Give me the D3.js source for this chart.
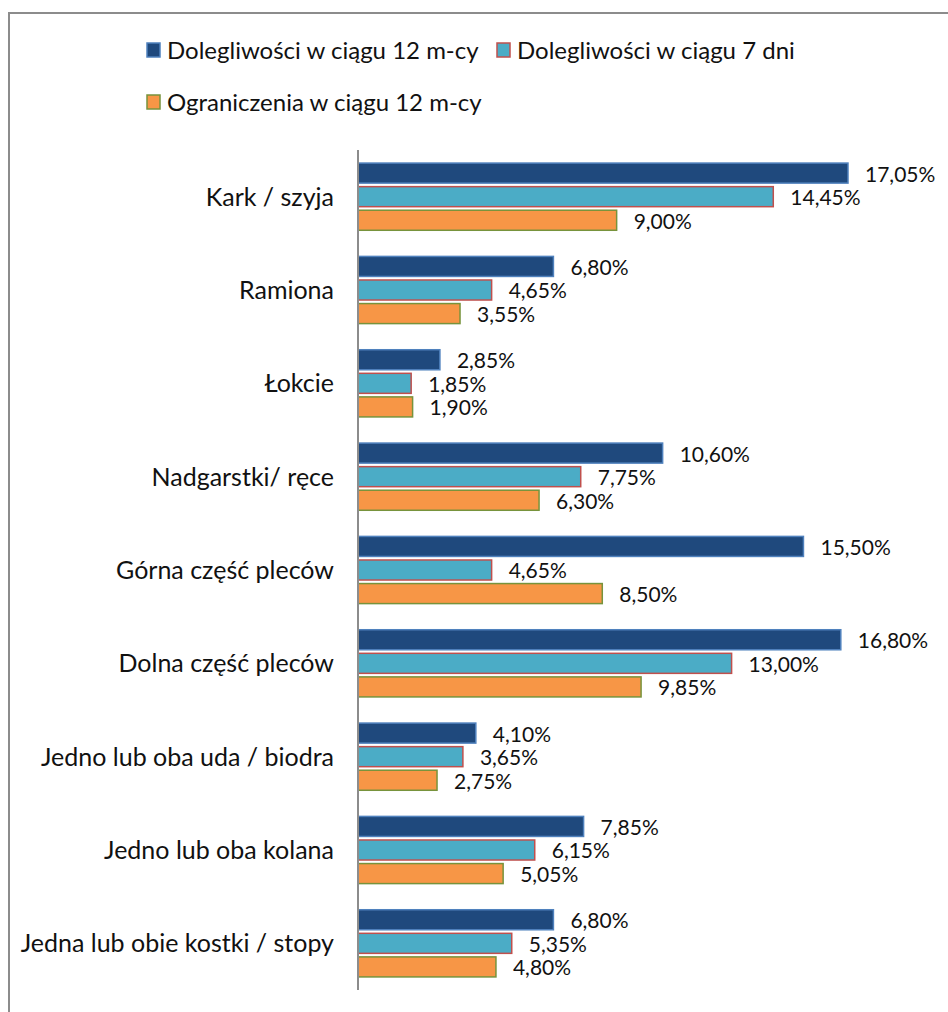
<!DOCTYPE html>
<html>
<head>
<meta charset="utf-8">
<script src="https://cdn.jsdelivr.net/npm/d3@7"></script>
<style>
  html, body { margin: 0; padding: 0; background: #fff; }
  svg { display: block; }
  text { font-family: Lato, "Open Sans", sans-serif; fill: #111; }
</style>
</head>
<body>
<svg id="chart" width="948" height="1012"></svg>
<script>
// Body regions
const categories = [
  "Kark / szyja",
  "Ramiona",
  "Łokcie",
  "Nadgarstki/ ręce",
  "Górna część pleców",
  "Dolna część pleców",
  "Jedno lub oba uda / biodra",
  "Jedno lub oba kolana",
  "Jedna lub obie kostki / stopy"
];

// Series names (legend)
const seriesNames = [
  "Dolegliwości w ciągu 12 m-cy",
  "Dolegliwości w ciągu 7 dni",
  "Ograniczenia w ciągu 12 m-cy"
];

// Values in percent, one array per series
const complaints12m = [17.05, 6.80, 2.85, 10.60, 15.50, 16.80, 4.10, 7.85, 6.80];
const complaints7d  = [14.45, 4.65, 1.85, 7.75, 4.65, 13.00, 3.65, 6.15, 5.35];
const limits12m     = [9.00, 3.55, 1.90, 6.30, 8.50, 9.85, 2.75, 5.05, 4.80];

const seriesValues = [complaints12m, complaints7d, limits12m];
const fills   = ["#1f497d", "#4bacc6", "#f79646"];
const strokes = ["#4f81bd", "#c0504d", "#77933c"];

const svg = d3.select("#chart");

// outer frame
svg.append("rect")
  .attr("x", 9).attr("y", 13)
  .attr("width", 960).attr("height", 1020)
  .attr("fill", "none")
  .attr("stroke", "#8c8c8c")
  .attr("stroke-width", 2);

const plot = { left: 358, top: 150, bottom: 990 };

const x = d3.scaleLinear().domain([0, 17.05]).range([plot.left, 848]);

const y0 = d3.scaleBand()
  .domain(categories)
  .range([plot.top, plot.bottom])
  .paddingInner(0.28)
  .paddingOuter(0.14);

const y1 = d3.scaleBand()
  .domain(d3.range(seriesNames.length))
  .range([0, y0.bandwidth()])
  .paddingInner(0.15);

const fmt = v => d3.format(".2f")(v).replace(".", ",") + "%";

const groups = svg.append("g").selectAll("g")
  .data(categories)
  .join("g")
  .attr("transform", d => `translate(0,${y0(d)})`);

groups.selectAll("rect")
  .data((c, i) => seriesValues.map((vals, s) => ({ s, v: vals[i] })))
  .join("rect")
  .attr("x", plot.left)
  .attr("y", d => y1(d.s))
  .attr("width", d => x(d.v) - plot.left)
  .attr("height", y1.bandwidth())
  .attr("fill", d => fills[d.s])
  .attr("stroke", d => strokes[d.s])
  .attr("stroke-width", 1.5);

groups.selectAll("text.val")
  .data((c, i) => seriesValues.map((vals, s) => ({ s, v: vals[i] })))
  .join("text")
  .attr("class", "val")
  .attr("x", d => x(d.v) + 17)
  .attr("y", d => y1(d.s) + y1.bandwidth() / 2 + 8.5)
  .attr("font-size", 21)
  .text(d => fmt(d.v));

// category axis
const yAxis = d3.axisLeft(y0).tickSize(0).tickPadding(24);
const ax = svg.append("g")
  .attr("transform", `translate(${plot.left},0)`)
  .call(yAxis);
ax.select(".domain").attr("stroke", "#8c8c8c").attr("stroke-width", 2)
  .attr("d", `M0,${plot.top}V${plot.bottom}`);
ax.selectAll(".tick text")
  .attr("font-size", 25)
  .attr("dy", null)
  .attr("y", 9)
  .attr("font-family", "Lato, 'Open Sans', sans-serif")
  .attr("fill", "#111");

// legend
const legendPos = [[147, 50], [497, 50], [147, 102]];
const legend = svg.append("g").selectAll("g")
  .data(seriesNames)
  .join("g")
  .attr("transform", (d, i) => `translate(${legendPos[i][0]},${legendPos[i][1]})`);
legend.append("rect")
  .attr("x", 0).attr("y", -7)
  .attr("width", 13).attr("height", 14)
  .attr("fill", (d, i) => fills[i])
  .attr("stroke", (d, i) => strokes[i])
  .attr("stroke-width", 1.5);
legend.append("text")
  .attr("x", 20).attr("y", 9)
  .attr("font-size", 24)
  .text(d => d);
</script>
</body>
</html>
